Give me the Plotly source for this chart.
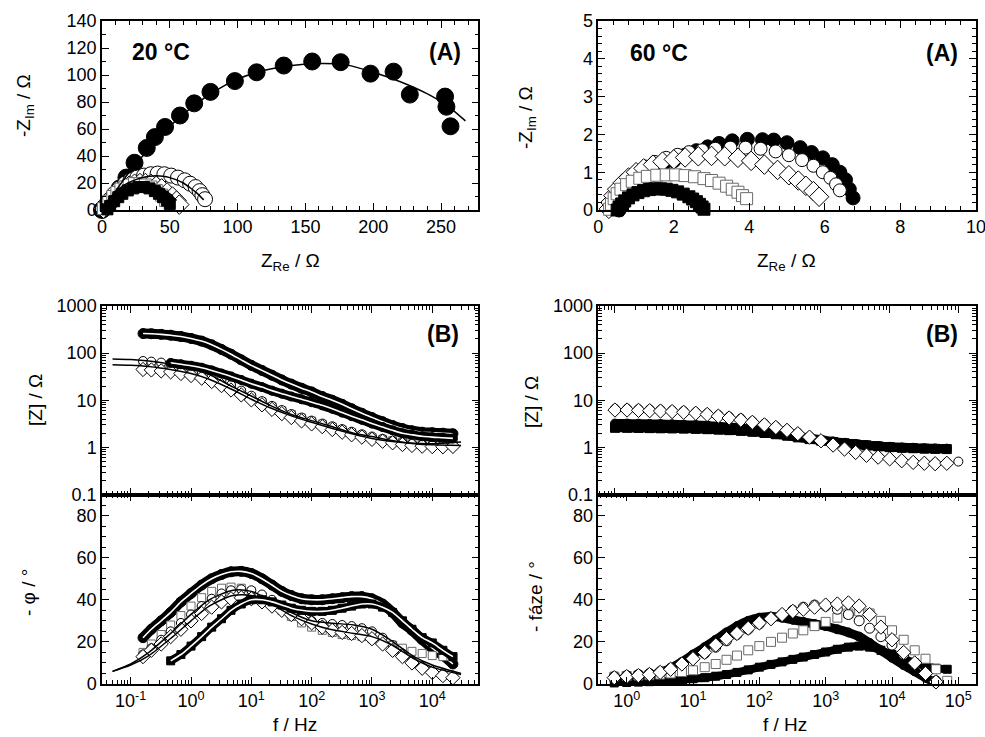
import plotly.graph_objects as go

W, H = 985, 737
FONT = "Liberation Sans, Arial, Helvetica, sans-serif"

# ---------------- Nyquist, 20 °C ----------------
n20_fc_x = [0, 2, 5, 9, 13, 18, 24, 33, 39, 46.5, 57.5, 68, 80, 98, 114, 134, 155, 176, 198, 215, 227, 253, 254, 257]
n20_fc_y = [0, 2, 5, 10, 16, 24, 35, 46, 54, 61.5, 70, 79, 87.5, 95.5, 102, 107, 110, 109.5, 101, 102.5, 85.5, 84, 76.5, 62]
n20_oc_x = [1, 3, 6, 9, 13, 17, 21, 26, 31, 36, 41, 46, 51, 56, 61, 65, 69, 72, 74, 76]
n20_oc_y = [1, 4, 8, 12, 16, 19.5, 22, 24, 25.5, 26.5, 27, 26.5, 25.5, 24, 22, 19.5, 17, 14, 11, 8]
n20_od_x = [1, 3, 5, 8, 11, 14, 17, 20, 24, 28, 32, 36, 40, 44, 48, 52, 55, 57]
n20_od_y = [1, 3, 6, 9, 12, 14.5, 16.5, 18, 19.5, 20, 20, 19.5, 18, 16, 13, 10, 7, 4]
n20_os_x = [1, 3, 5, 8, 11, 14, 17, 20, 24, 28, 32, 36, 40, 44, 47]
n20_os_y = [1, 3.5, 6.5, 10, 13, 15.5, 17, 18.5, 19.5, 19.5, 18.5, 17, 14.5, 11, 7]
n20_fs_x = [4, 6, 9, 12, 15, 19, 23, 27, 31, 35, 39, 42, 45, 48, 50]
n20_fs_y = [0.5, 3, 6.5, 9.5, 12, 14.5, 16, 17, 17, 16, 14, 12, 9.5, 7, 4.5]
# fitted curves, 20 °C Nyquist
n20_fit1_x = [0, 10, 20, 30, 40, 50, 60, 70, 80, 90, 100, 120, 140, 160, 180, 200, 220, 240, 255, 268]
n20_fit1_y = [0, 14, 28, 40, 52, 62, 71, 79, 86, 92, 97, 103.5, 107, 108.5, 107.5, 102, 95, 86, 77, 66]
n20_fit2_x = [0, 5, 10, 15, 20, 25, 30, 35, 40, 45, 50, 55, 60, 65, 70, 75]
n20_fit2_y = [0, 8, 13.5, 17.5, 20.5, 22.5, 24, 25, 25.3, 25, 24, 22.3, 20, 16.5, 12.5, 7.5]
n20_fit3_x = [0, 5, 10, 15, 20, 25, 30, 35, 40, 45, 50, 55]
n20_fit3_y = [0, 7, 12, 15.5, 18, 19.5, 20, 19.5, 18, 15.5, 12, 7]
n20_fit4_x = [0, 5, 10, 15, 20, 25, 30, 35, 40, 45, 50, 54]
n20_fit4_y = [0, 6, 11, 14.5, 17, 18.2, 18.5, 18, 16.5, 14, 10.5, 7]

# ---------------- Nyquist, 60 °C ----------------
n60_fc_x = [0.55, 0.65, 0.8, 1.0, 1.2, 1.45, 1.7, 2.0, 2.3, 2.6, 2.9, 3.2, 3.55, 3.95, 4.35, 4.65, 5.0, 5.35, 5.65, 5.95, 6.2, 6.4, 6.55, 6.65, 6.75]
n60_fc_y = [0.0, 0.15, 0.35, 0.55, 0.75, 0.95, 1.12, 1.3, 1.45, 1.57, 1.67, 1.76, 1.83, 1.87, 1.86, 1.85, 1.78, 1.65, 1.52, 1.38, 1.2, 1.0, 0.8, 0.55, 0.32]
n60_oc_x = [0.3, 0.35, 0.45, 0.6, 0.8, 1.0, 1.25, 1.5, 1.8, 2.1, 2.4, 2.75, 3.1, 3.5, 3.9, 4.3, 4.7, 5.05, 5.4, 5.7, 5.95, 6.15, 6.3, 6.4]
n60_oc_y = [0.05, 0.25, 0.45, 0.65, 0.85, 1.0, 1.15, 1.27, 1.38, 1.46, 1.53, 1.58, 1.62, 1.65, 1.65, 1.62, 1.55, 1.45, 1.32, 1.17, 1.0, 0.85, 0.68, 0.52]
n60_od_x = [0.28, 0.32, 0.4, 0.5, 0.65, 0.8, 1.0, 1.2, 1.45, 1.7, 2.0, 2.3, 2.65, 3.0, 3.35, 3.7, 4.05, 4.4, 4.75, 5.05, 5.3, 5.5, 5.7, 5.85]
n60_od_y = [0.03, 0.2, 0.38, 0.55, 0.72, 0.86, 1.0, 1.1, 1.2, 1.28, 1.34, 1.39, 1.42, 1.43, 1.42, 1.38, 1.3, 1.2, 1.06, 0.92, 0.78, 0.64, 0.5, 0.35]
n60_os_x = [0.3, 0.35, 0.42, 0.5, 0.6, 0.75, 0.9, 1.1, 1.3, 1.55, 1.8, 2.05, 2.3, 2.55, 2.8, 3.0, 3.2, 3.4, 3.55, 3.7, 3.82, 3.93]
n60_os_y = [0.02, 0.15, 0.3, 0.43, 0.55, 0.67, 0.76, 0.84, 0.89, 0.92, 0.93, 0.93, 0.91, 0.88, 0.83, 0.78, 0.71, 0.63, 0.55, 0.47, 0.38, 0.3]
n60_fs_x = [0.5, 0.55, 0.62, 0.7, 0.8, 0.92, 1.05, 1.2, 1.35, 1.5, 1.65, 1.8, 1.95, 2.1, 2.25, 2.4, 2.5, 2.6, 2.68, 2.75, 2.8]
n60_fs_y = [0.0, 0.08, 0.16, 0.24, 0.32, 0.4, 0.46, 0.51, 0.54, 0.56, 0.56, 0.55, 0.52, 0.48, 0.42, 0.35, 0.29, 0.22, 0.15, 0.08, 0.02]

# ---------------- Bode, 20 °C ----------------
f20 = [0.16, 0.22, 0.32, 0.46, 0.68, 1.0, 1.5, 2.2, 3.2, 4.6, 6.8, 10, 15, 22, 32, 46, 68, 100,
       150, 220, 320, 460, 680, 1000, 1500, 2200, 3200, 4600, 6800, 10000, 15000, 22000]
z20_fc = [260, 258, 250, 240, 225, 205, 180, 150, 120, 95, 72, 55, 43, 34, 27, 22, 18, 15, 12, 10,
          8.2, 6.6, 5.3, 4.3, 3.5, 2.9, 2.5, 2.25, 2.1, 2.05, 2.0, 1.95]
z20_oc = [68, 66, 63, 59, 54, 48, 41, 34, 27, 21, 16, 12.5, 9.6, 7.6, 6.2, 5.1, 4.3, 3.7, 3.2, 2.8,
          2.45, 2.15, 1.9, 1.7, 1.52, 1.38, 1.28, 1.2, 1.15, 1.12, 1.1, 1.1]
z20_od = [45, 44, 42, 40, 37, 33.5, 29.5, 25, 20.5, 16.5, 13, 10.2, 8, 6.4, 5.2, 4.3, 3.65, 3.15, 2.75,
          2.4, 2.1, 1.85, 1.65, 1.48, 1.35, 1.25, 1.15, 1.1, 1.06, 1.04, 1.03, 1.05]
z20_os = [56, 55, 53, 50, 46, 41, 35.5, 30, 24.5, 19.5, 15, 11.8, 9.2, 7.3, 6, 5, 4.2, 3.6, 3.1, 2.7,
          2.35, 2.05, 1.82, 1.62, 1.48, 1.38, 1.3, 1.25, 1.22, 1.2, 1.2, 1.2]
z20_fs = [None, None, None, 62, 58, 54, 49, 43, 37, 32, 27, 22.5, 19, 16, 13.8, 12, 10.5, 9.1, 7.8,
          6.6, 5.5, 4.6, 3.85, 3.2, 2.7, 2.3, 2.0, 1.85, 1.72, 1.65, 1.6, 1.55]
p20_fc = [22, 26, 30, 34, 39, 43, 47, 50, 52, 53.3, 53.5, 52.5, 50, 47, 44, 42, 40.5, 40, 40, 40.5,
          41, 41.5, 41.5, 40.5, 38, 34, 29, 25.5, 21, 17, 13.5, 9.5]
p20_oc = [14, 17, 21, 25, 29, 33, 37, 40.5, 43, 44.5, 45, 44.5, 42.5, 40, 37, 34, 31.5, 30, 29, 28.5,
          28, 27.5, 26.5, 25, 22, 18.5, 14.5, 11, 8, 6, 4.5, 3]
p20_od = [13, 16, 19, 22.5, 26, 30, 33.5, 36.5, 39, 40.5, 41, 40.5, 39, 37, 35, 33, 31, 29, 27, 25.5,
          24.5, 24, 23, 21.5, 19, 16, 13, 10, 7.5, 5.5, 4, 3]
p20_os = [15, 19, 23.5, 28, 32.5, 37, 41, 44, 45.5, 46, 45.5, 44, 41.5, 38.5, 35, 32, 29, 27, 25.5,
          24.5, 23.5, 23, 22.5, 21.5, 20, 18.5, 17, 15.5, 14.5, 13.5, 13, 13]
p20_fs = [None, None, None, 11, 14, 18, 22.5, 27, 31, 35, 38, 40, 40, 39, 37.5, 36, 35, 34.5, 34.5,
          35, 36, 37, 38, 38, 36.5, 34, 30, 26, 22, 19.5, 16, 13]
# fitted curves, 20 °C Bode
ffit20 = [0.05, 0.1, 0.2, 0.5, 1, 2, 5, 10, 20, 50, 100, 200, 500, 1000, 2000, 5000, 10000, 30000]
zfit20_a = [75, 73, 68, 57, 47, 35, 19, 12.3, 7.9, 4.8, 3.7, 2.85, 2.0, 1.7, 1.42, 1.2, 1.13, 1.1]
zfit20_b = [57, 55.5, 52, 44, 37, 28, 16.5, 10.5, 7, 4.5, 3.4, 2.6, 1.9, 1.55, 1.35, 1.22, 1.2, 1.3]
pfit20_a = [6, 9.5, 15, 25, 33, 40, 44.5, 44, 40, 33.5, 30, 29, 28, 26, 21, 13, 9, 5]
pfit20_b = [6, 9, 13.5, 22.5, 30, 37, 42, 42, 38.5, 32, 28.5, 26, 24, 22.5, 19, 12, 8, 4.5]

# ---------------- Bode, 60 °C ----------------
f60m = [1, 1.5, 2.2, 3.2, 4.6, 6.8, 10, 15, 22, 32, 46, 68, 100, 150, 220, 320, 460, 680, 1000,
        1500, 2200, 3200, 4600, 6800, 10000, 15000, 22000, 32000, 46000, 68000, 100000]
z60_od = [6.2, 6.2, 6.1, 6.0, 5.9, 5.75, 5.55, 5.3, 5.0, 4.6, 4.2, 3.8, 3.4, 3.0, 2.65, 2.3, 1.95,
          1.65, 1.38, 1.12, 0.92, 0.78, 0.68, 0.62, 0.57, 0.52, 0.48, 0.46, 0.45, 0.46, None]
z60_oc = [6.6, 6.6, 6.5, 6.4, 6.3, 6.1, 5.9, 5.6, 5.3, 4.9, 4.5, 4.1, 3.6, 3.2, 2.8, 2.4, 2.05, 1.72,
          1.44, 1.18, 0.97, 0.82, 0.7, 0.62, 0.56, 0.52, 0.49, 0.47, 0.47, 0.48, 0.5]
z60_fc = [3.2, 3.2, 3.18, 3.15, 3.12, 3.08, 3.03, 2.97, 2.9, 2.8, 2.7, 2.57, 2.42, 2.25, 2.08, 1.9,
          1.73, 1.58, 1.45, 1.34, 1.25, 1.18, 1.12, 1.07, 1.03, 1.0, 0.98, 0.96, 0.95, 0.94, None]
z60_fs = [2.6, 2.6, 2.58, 2.56, 2.54, 2.52, 2.5, 2.47, 2.43, 2.38, 2.32, 2.24, 2.14, 2.02, 1.9, 1.77,
          1.63, 1.5, 1.39, 1.3, 1.22, 1.15, 1.1, 1.05, 1.01, 0.98, 0.96, 0.94, 0.93, 0.92, None]
f60p = [0.65, 1, 1.5, 2.2, 3.2, 4.6, 6.8, 10, 15, 22, 32, 46, 68, 100, 150, 220, 320, 460, 680, 1000,
        1500, 2200, 3200, 4600, 6800, 10000, 15000, 22000, 32000, 46000, 68000]
p60_fc = [2, 2.5, 3, 4, 5.5, 7.5, 10.5, 14, 17.5, 21, 24.5, 27.5, 30, 31.5, 32, 31.5, 30.5, 29.5, 28.5,
          27.5, 26, 24.5, 22.5, 19.5, 16, 12.5, 9, 6, 3, 0.5, None]
p60_oc = [3.5, 4, 4.5, 5, 6, 7.5, 9.5, 12, 14.5, 17.5, 20.5, 23.5, 26, 28.5, 31, 33, 35, 36.5, 37.5,
          37, 35.5, 33, 30, 26.5, 22.5, 18.5, 14, 9.5, 5, 1.5, None]
p60_od = [3, 3.5, 4, 4.5, 5.5, 7, 9.5, 12, 15, 18.5, 21.5, 24, 26.5, 29, 31, 33, 34.5, 35.5, 36.5,
          37.5, 38, 38.5, 37, 33, 27, 21, 15, 10, 5, 1, None]
p60_os = [3.5, 3.8, 4, 4.2, 4.5, 5, 5.7, 6.5, 8, 9.5, 11.5, 13.5, 16, 18, 20, 22, 24, 25.5, 27.5,
          29.5, 31.5, 33.5, 34.5, 33.5, 30, 25.5, 21, 16, 12, 7, 1.5]
p60_fs = [0.5, 0.7, 0.9, 1.1, 1.3, 1.6, 2, 2.5, 3, 3.7, 4.5, 5.5, 6.7, 8, 9.3, 10.5, 11.7, 12.8, 14,
          15.2, 16.5, 17.5, 18, 17.5, 16, 14, 12, 10, 8.5, 7.5, 7]

# ---------------- axis tick labels ----------------
nyq60_xticks = [0, 2, 4, 6, 8, 10]
mag_ticks = [0.1, 1, 10, 100, 1000]
mag_ticktext = ["0.1", "1", "10", "100", "1000"]
f20_ticks = [0.1, 1, 10, 100, 1000, 10000]
f20_ticktext = ["10<sup>-1</sup>", "10<sup>0</sup>", "10<sup>1</sup>", "10<sup>2</sup>", "10<sup>3</sup>", "10<sup>4</sup>"]
f60_ticks = [1, 10, 100, 1000, 10000, 100000]
f60_ticktext = ["10<sup>0</sup>", "10<sup>1</sup>", "10<sup>2</sup>", "10<sup>3</sup>", "10<sup>4</sup>", "10<sup>5</sup>"]

fig = go.Figure()

GREY = "#6a6a6a"


def markers(ax, x, y, symbol, filled, size, edge="black", lw=1.0):
    fig.add_trace(go.Scatter(
        x=x, y=y, mode="markers", xaxis="x" + ax, yaxis="y" + ax, showlegend=False,
        cliponaxis=False, hoverinfo="skip",
        marker=dict(symbol=symbol, size=size, color="black" if filled else "white",
                    line=dict(color=edge, width=lw))))


def curve(ax, x, y, color="black", width=1.5):
    fig.add_trace(go.Scatter(
        x=x, y=y, mode="lines", xaxis="x" + ax, yaxis="y" + ax, showlegend=False,
        hoverinfo="skip", connectgaps=False,
        line=dict(color=color, width=width, shape="spline", smoothing=0.8)))


def band(ax, x, y, width, white_core=True):
    # dense filled markers rendered as a continuous black band
    curve(ax, x, y, "black", width)
    markers(ax, x, y, "circle", True, width)
    if white_core:
        curve(ax, x, y, "white", 1.6)


# Panel 1: Nyquist 20 °C
markers("", n20_fc_x, n20_fc_y, "circle", True, 17)
markers("", n20_oc_x, n20_oc_y, "circle", False, 15)
markers("", n20_od_x, n20_od_y, "diamond", False, 15)
markers("", n20_os_x, n20_os_y, "square", False, 12, GREY)
markers("", n20_fs_x, n20_fs_y, "square", True, 11)
curve("", n20_fit1_x, n20_fit1_y)
curve("", n20_fit2_x, n20_fit2_y)
curve("", n20_fit3_x, n20_fit3_y)
curve("", n20_fit4_x, n20_fit4_y)

# Panel 2: Nyquist 60 °C
markers("2", n60_fc_x, n60_fc_y, "circle", True, 14)
markers("2", n60_oc_x, n60_oc_y, "circle", False, 13)
markers("2", n60_od_x, n60_od_y, "diamond", False, 15)
markers("2", n60_os_x, n60_os_y, "square", False, 12, GREY)
markers("2", n60_fs_x, n60_fs_y, "square", True, 12)

# Panel 3: |Z| 20 °C
S = 9
band("3", f20, z20_fc, 10)
markers("3", f20, z20_os, "square", False, S - 1, GREY)
markers("3", f20, z20_oc, "circle", False, S)
markers("3", f20, z20_od, "diamond", False, S + 2)
band("3", f20, z20_fs, 9)
curve("3", ffit20, zfit20_a)
curve("3", ffit20, zfit20_b)

# Panel 5: phase 20 °C
band("5", f20, p20_fc, 10)
markers("5", f20, p20_os, "square", False, S - 1, GREY)
markers("5", f20, p20_oc, "circle", False, S)
markers("5", f20, p20_od, "diamond", False, S + 2)
curve("5", ffit20, pfit20_a)
curve("5", ffit20, pfit20_b)
curve("5", f20, p20_fs, "black", 8)
markers("5", f20, p20_fs, "square", True, 8)
curve("5", f20, p20_fs, "white", 1.6)

# Panel 4: |Z| 60 °C
band("4", f60m, z60_fc, 9, False)
curve("4", f60m, z60_fs, "black", 9)
markers("4", f60m, z60_fs, "square", True, 9)
markers("4", f60m, z60_oc, "circle", False, S)
markers("4", f60m, z60_od, "diamond", False, S + 2)

# Panel 6: phase 60 °C
curve("6", f60p, p60_fs, "black", 8)
markers("6", f60p, p60_fs, "square", True, 8)
band("6", f60p, p60_fc, 9, False)
markers("6", f60p, p60_os, "square", False, S, GREY)
markers("6", f60p, p60_oc, "circle", False, S + 1)
markers("6", f60p, p60_od, "diamond", False, S + 2)


def px_x(a, b):
    return [a / W, b / W]


def px_y(top, bottom):
    return [1 - bottom / H, 1 - top / H]


XL = px_x(102, 478.3)
XR = px_x(598.3, 975.7)
YT = px_y(21, 210)
YM = px_y(306, 494.5)
YP = px_y(494.5, 684)

TICKFONT = dict(family=FONT, size=18, color="black")


def base(**kw):
    d = dict(showline=True, linecolor="black", linewidth=1.5, mirror="allticks",
             ticks="inside", ticklen=7, tickwidth=1.2, tickcolor="black", automargin=False,
             showgrid=False, zeroline=False, tickfont=TICKFONT, fixedrange=True)
    d.update(kw)
    return d


def lin_minor(step):
    return dict(dtick=step, ticks="inside", ticklen=4, tickwidth=1, tickcolor="black", showgrid=False)


minor_log_vals = [m * 10.0 ** e for e in range(-2, 6) for m in range(2, 10)]
LOG_MINOR = dict(tickmode="array", tickvals=minor_log_vals, ticks="inside", ticklen=4,
                 tickwidth=1, tickcolor="black", showgrid=False)

fig.update_layout(
    width=W, height=H, autosize=False,
    margin=dict(l=0, r=0, t=0, b=0, pad=0, autoexpand=False),
    paper_bgcolor="white", plot_bgcolor="white",
    font=dict(family=FONT, color="black"),
    xaxis=base(domain=XL, anchor="y", range=[0, 277.5], tick0=0, dtick=50, minor=lin_minor(10)),
    yaxis=base(domain=YT, anchor="x", range=[0, 140], tick0=0, dtick=20, minor=lin_minor(10)),
    xaxis2=base(domain=XR, anchor="y2", range=[0, 10], tickmode="array",
                tickvals=nyq60_xticks, ticktext=[str(v) if v < 10 else "" for v in nyq60_xticks],
                minor=lin_minor(0.4)),
    yaxis2=base(domain=YT, anchor="x2", range=[0, 5], tick0=0, dtick=1, minor=lin_minor(0.2)),
    xaxis3=base(domain=XL, anchor="y3", type="log", range=[-1.476, 4.763], tickmode="array",
                tickvals=f20_ticks, showticklabels=False, minor=LOG_MINOR),
    yaxis3=base(domain=YM, anchor="x3", type="log", range=[-1, 3], tickmode="array",
                tickvals=mag_ticks, ticktext=mag_ticktext, minor=LOG_MINOR),
    xaxis5=base(domain=XL, anchor="y5", type="log", range=[-1.476, 4.763], tickmode="array",
                tickvals=f20_ticks, ticktext=f20_ticktext, minor=LOG_MINOR),
    yaxis5=base(domain=YP, anchor="x5", range=[0, 90], tickmode="array", tickvals=[0, 20, 40, 60, 80],
                minor=lin_minor(5)),
    xaxis4=base(domain=XR, anchor="y4", type="log", range=[-0.243, 5.253], tickmode="array",
                tickvals=f60_ticks, showticklabels=False, minor=LOG_MINOR),
    yaxis4=base(domain=YM, anchor="x4", type="log", range=[-1, 3], tickmode="array",
                tickvals=mag_ticks, ticktext=mag_ticktext, minor=LOG_MINOR),
    xaxis6=base(domain=XR, anchor="y6", type="log", range=[-0.428, 5.262], tickmode="array",
                tickvals=f60_ticks, ticktext=f60_ticktext, minor=LOG_MINOR),
    yaxis6=base(domain=YP, anchor="x6", range=[0, 90], tickmode="array", tickvals=[0, 20, 40, 60, 80],
                minor=lin_minor(5)),
)


def note(text, x, y, size=19, bold=False, angle=0):
    fig.add_annotation(
        text="<b>%s</b>" % text if bold else text, x=x / W, y=1 - y / H,
        xref="paper", yref="paper", xanchor="center", yanchor="middle",
        showarrow=False, textangle=angle, font=dict(family=FONT, size=size, color="black"))


# last tick label of the 60 °C Nyquist x axis (runs off the page edge as in the original)
fig.add_annotation(text="10", x=10, xref="x2", y=1 - 227 / H, yref="paper", xanchor="center",
                   yanchor="middle", showarrow=False, font=TICKFONT)

# panel labels
note("20 °C", 161, 52, 23, True)
note("(A)", 444.5, 52, 23, True)
note("60 °C", 659, 53, 23, True)
note("(A)", 941.5, 53, 23, True)
note("(B)", 442.5, 334, 23, True)
note("(B)", 941.5, 334, 23, True)

# axis titles
note("-Z<sub>Im</sub> / Ω", 25, 106, 19, angle=-90)
note("Z<sub>Re</sub> / Ω", 290, 262, 19)
note("-Z<sub>Im</sub> / Ω", 527, 118, 19, angle=-90)
note("Z<sub>Re</sub> / Ω", 786, 262, 19)
note("[Z] / Ω", 35, 400, 19, angle=-90)
note("[Z] / Ω", 532, 402, 19, angle=-90)
note("- φ / °", 28, 593, 19, angle=-90)
note("- fáze / °", 535, 597, 19, angle=-90)
note("f / Hz", 295, 724, 19)
note("f / Hz", 785, 724, 19)

fig.write_html("out.html", config={"displayModeBar": False},
               post_script="document.body.style.margin='0px';document.body.style.overflow='hidden';")
